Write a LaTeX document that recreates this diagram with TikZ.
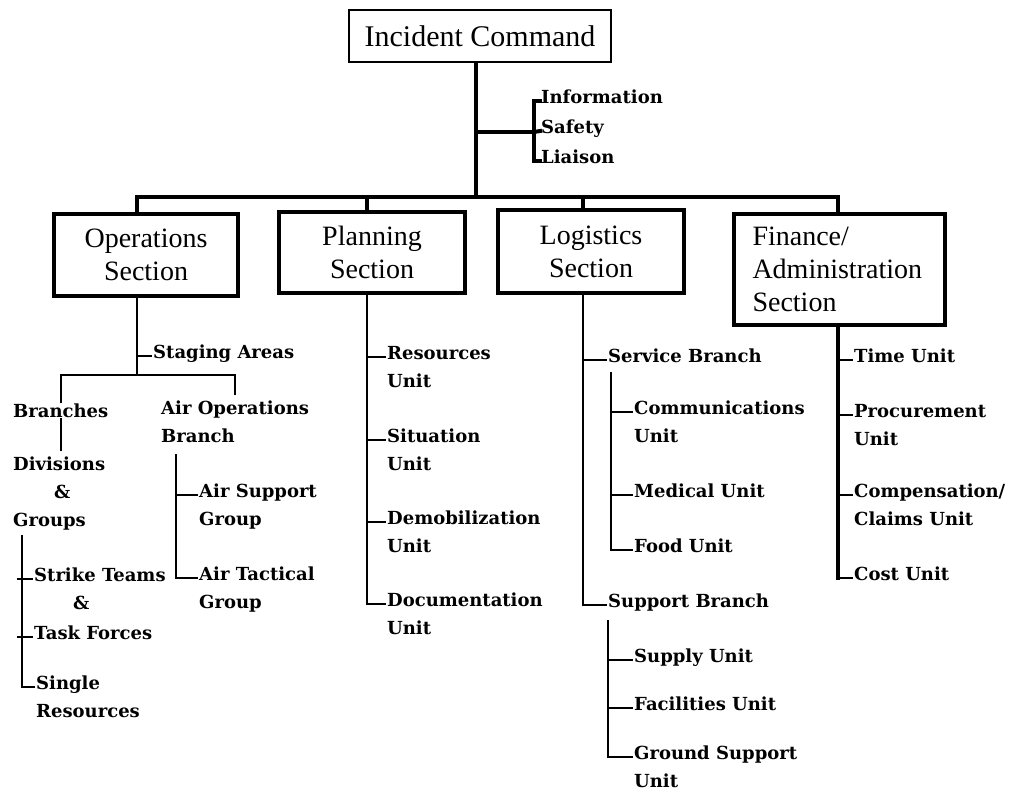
\documentclass[tikz,border=0pt]{standalone}
\usepackage{fontspec}
\setmainfont{Liberation Serif}
\newfontfamily\unitfont{DejaVu Serif}
\usepackage{tikz}
\usetikzlibrary{positioning}
\newcommand{\twoline}[2]{\begin{tabular}[t]{@{}l@{}}#1\\#2\end{tabular}}
\renewcommand{\arraystretch}{1.27}

\tikzset{
  section/.style={draw, line width=4pt, align=center, inner sep=0pt,
    font=\fontsize{28}{33}\selectfont},
  unit/.style={anchor=mid west, inner xsep=1pt, inner ysep=0pt,
    font=\unitfont\bfseries\fontsize{18}{22}\selectfont},
  trunk/.style={line width=4pt, line cap=rect},
  link/.style={line width=2pt}
}

\begin{document}
\begin{tikzpicture}[x=1pt,y=-1pt]
    \useasboundingbox (0,0) rectangle (1010,801);

    \node[draw, line width=1.6pt, minimum width=262, minimum height=52, inner sep=0pt,
        font=\fontsize{30}{36}\selectfont] (ic) at (480,36) {Incident Command};

    \node[section, minimum width=184, minimum height=82] (ops) at (146,255) {Operations\\Section};
    \node[section, minimum width=186, minimum height=81] (plan) at (372,252.5) {Planning\\Section};
    \node[section, minimum width=186, minimum height=83] (logi) at (591,251.5) {Logistics\\Section};
    \node[section, text width=174, align=left, inner xsep=18.5, minimum height=111]
        (fin) at (839.5,269.5) {Finance/\\Administration\\Section};

    \coordinate (bar) at (476,197);
    \coordinate (staff) at (534,132);
    \coordinate (opsx) at (137,0);
    \coordinate (planx) at (367,0);
    \coordinate (logx) at (583,0);
    \coordinate (finx) at (838,0);

    \draw[trunk] (ic.south -| bar) -- (bar);
    \draw[trunk] (opsx |- bar) -- (finx |- bar);
    \foreach \s/\x in {ops/opsx, plan/planx, logi/logx, fin/finx}
        \draw[trunk] (\x |- bar) -- (\x |- \s.north);

    % command staff
    \node[unit] (info) at (540,101) {Information};
    \node[unit] (safety) at (540,131) {Safety};
    \node[unit] (liaison) at (540,161) {Liaison};
    \draw[trunk] (bar |- staff) -- (staff);
    \draw[trunk] (info.mid west) -| (staff |- liaison.mid west) -- (liaison.mid west);
    \draw[trunk] (staff) -- (safety.mid west);

    % operations
    \coordinate (opsj) at (137,375);
    \node[unit] (staging) at (152,356) {Staging Areas};
    \node[unit] (branches) at (12,415) {Branches};
    \node[unit] (airops) at (160,412) {\twoline{Air Operations}{Branch}};
    \node[unit] (divgrp) at (12,468)
        {\begin{tabular}[t]{@{}l@{}}Divisions\\\hspace*{41pt}\&\\Groups\end{tabular}};
    \node[unit] (strike) at (33,579) {Strike Teams};
    \node[unit] (amp) at (72,607) {\&};
    \node[unit] (taskf) at (33,637) {Task Forces};
    \node[unit] (single) at (35,687) {\twoline{Single}{Resources}};
    \node[unit] (airsup) at (198,495) {\twoline{Air Support}{Group}};
    \node[unit] (airtac) at (198,578) {\twoline{Air Tactical}{Group}};

    \draw[link] (ops.south -| opsx) -- (opsj);
    \draw[link] (opsj |- staging.mid west) -- (staging.mid west);
    \draw[link] (branches.north) -- (branches.north |- opsj) -- (airops.north |- opsj) -- (airops.north);
    \draw[link] (branches.south) -- (branches.south |- divgrp.north);
    \coordinate (dgspine) at ([xshift=10pt]divgrp.south west);
    \draw[link] (dgspine) |- (single.mid west);
    \draw[link] ([xshift=-5pt]dgspine |- strike.mid west) -- (strike.mid west);
    \draw[link] ([xshift=-5pt]dgspine |- taskf.mid west) -- (taskf.mid west);
    \coordinate (airspine) at ([xshift=16pt,yshift=-3pt]airops.south west);
    \draw[link] (airspine) |- (airtac.mid west);
    \draw[link] (airspine |- airsup.mid west) -- (airsup.mid west);

    % planning
    \node[unit] (res) at (386,357) {\twoline{Resources}{Unit}};
    \node[unit] (sit) at (386,440) {\twoline{Situation}{Unit}};
    \node[unit] (demob) at (386,522) {\twoline{Demobilization}{Unit}};
    \node[unit] (docu) at (386,604) {\twoline{Documentation}{Unit}};
    \draw[link] (plan.south -| planx) |- (docu.mid west);
    \foreach \n in {res, sit, demob}
        \draw[link] (planx |- \n.mid west) -- (\n.mid west);

    % logistics
    \node[unit] (service) at (607,360) {Service Branch};
    \node[unit] (support) at (607,605) {Support Branch};
    \node[unit] (comm) at (633,412) {\twoline{Communications}{Unit}};
    \node[unit] (medical) at (633,495) {Medical Unit};
    \node[unit] (food) at (633,550) {Food Unit};
    \node[unit] (supply) at (633,660) {Supply Unit};
    \node[unit] (facil) at (633,708) {Facilities Unit};
    \node[unit] (ground) at (633,757) {\twoline{Ground Support}{Unit}};
    \draw[link] (logi.south -| logx) |- (support.mid west);
    \draw[link] (logx |- service.mid west) -- (service.mid west);
    \coordinate (svcspine) at ([xshift=4pt,yshift=-12pt]service.mid west);
    \draw[link] (svcspine) |- (food.mid west);
    \foreach \n in {comm, medical}
        \draw[link] (svcspine |- \n.mid west) -- (\n.mid west);
    \coordinate (supspine) at ([xshift=1pt,yshift=-15pt]support.mid west);
    \draw[link] (supspine) |- (ground.mid west);
    \foreach \n in {supply, facil}
        \draw[link] (supspine |- \n.mid west) -- (\n.mid west);

    % finance
    \node[unit] (time) at (853,360) {Time Unit};
    \node[unit] (procure) at (853,415) {\twoline{Procurement}{Unit}};
    \node[unit] (comp) at (853,495) {\twoline{Compensation/}{Claims Unit}};
    \node[unit] (cost) at (853,578) {Cost Unit};
    \draw[trunk] (fin.south -| finx) -- (finx |- cost.mid west);
    \foreach \n in {time, procure, comp, cost}
        \draw[link] (finx |- \n.mid west) -- (\n.mid west);
\end{tikzpicture}
\end{document}
